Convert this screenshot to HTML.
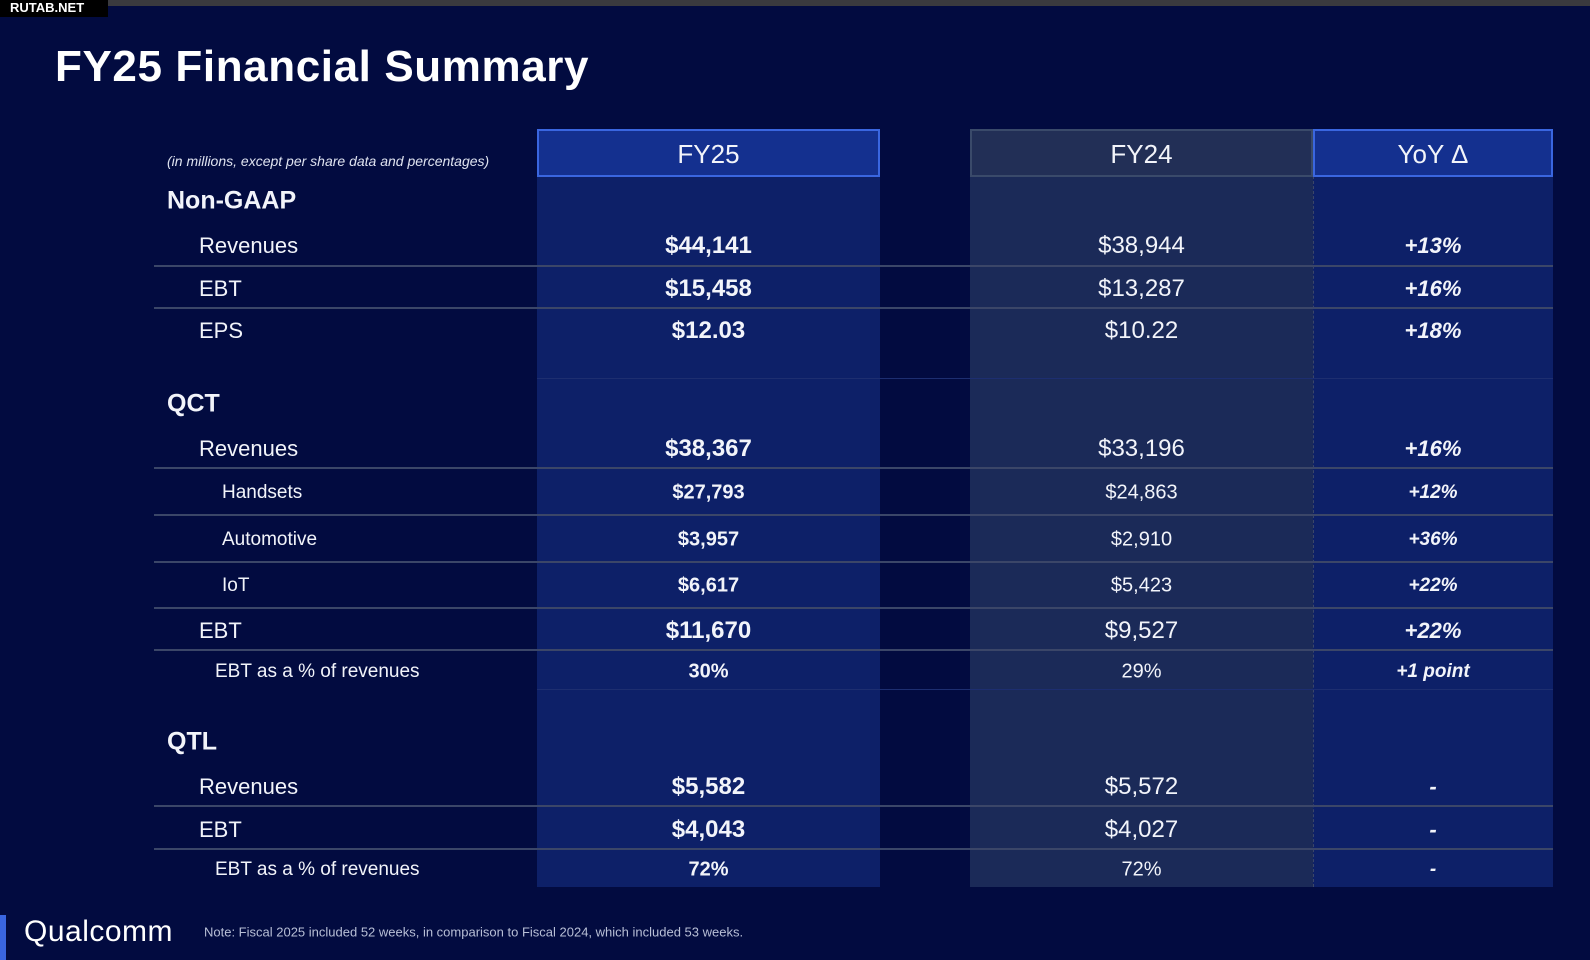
<!DOCTYPE html>
<html><head><style>
*{margin:0;padding:0;box-sizing:border-box}
body{width:1590px;height:960px;background:#020b40;position:relative;overflow:hidden;font-family:"Liberation Sans",sans-serif;color:#f2f4fa}
.a{position:absolute}
.col{position:absolute;top:176px;height:711px}
.hdr{position:absolute;top:129px;height:48px;font-size:26px;text-align:center;line-height:46px}
.t{position:absolute;white-space:nowrap;transform:translateY(-50%)}
.line{position:absolute;left:154px;width:1399px;height:2px;background:#3b4668}
.c1{left:537px;width:343px;text-align:center;font-weight:bold}
.c2{left:970px;width:343px;text-align:center}
.c3{left:1313px;width:240px;text-align:center;font-weight:bold;font-style:italic}
</style></head><body>
<div class="a" style="left:0;top:0;width:1590px;height:6px;background:#3a3a3e"></div>
<div class="a" style="left:0;top:0;width:108px;height:17px;background:#000;color:#fff;font-weight:bold;font-size:13px;line-height:16px;padding-left:10px">RUTAB.NET</div>
<div class="a" style="left:55px;top:42px;font-size:44px;font-weight:bold;color:#fff;letter-spacing:0.6px">FY25 Financial Summary</div>

<div class="col" style="left:537px;width:343px;background:#0d2068"></div>
<div class="col" style="left:970px;width:343px;background:#1b2a58"></div>
<div class="col" style="left:1313px;width:240px;background:#0d2068;border-left:1px dashed #3b4668"></div>
<div class="hdr" style="left:537px;width:343px;background:#14308f;border:2px solid #3a66e0">FY25</div>
<div class="hdr" style="left:970px;width:343px;background:#222f56;border:2px solid #3a4a6a">FY24</div>
<div class="hdr" style="left:1313px;width:240px;background:#14308f;border:2px solid #3a66e0">YoY Δ</div>

<div class="t" style="left:167px;top:161px;font-size:14px;font-style:italic;color:#dfe3f0">(in millions, except per share data and percentages)</div>

<div class="line" style="top:265px"></div><div class="line" style="top:307px"></div>
<div class="line" style="top:467px"></div><div class="line" style="top:514px"></div>
<div class="line" style="top:561px"></div><div class="line" style="top:607px"></div>
<div class="line" style="top:649px"></div><div class="line" style="top:805px"></div>
<div class="line" style="top:848px"></div>
<div class="a" style="left:537px;top:378px;width:1016px;height:1px;background:#1d2e70"></div>
<div class="a" style="left:537px;top:689px;width:1016px;height:1px;background:#1d2e70"></div>

<div class="t" style="left:167px;top:201px;font-size:25px;font-weight:bold">Non-GAAP</div>
<div class="t" style="left:167px;top:404px;font-size:25px;font-weight:bold">QCT</div>
<div class="t" style="left:167px;top:742px;font-size:25px;font-weight:bold">QTL</div>

<div class="t" style="left:199px;top:246px;font-size:22px">Revenues</div>
<div class="t c1" style="top:246px;font-size:24px">$44,141</div><div class="t c2" style="top:246px;font-size:24px">$38,944</div><div class="t c3" style="top:246px;font-size:22px">+13%</div>
<div class="t" style="left:199px;top:289px;font-size:22px">EBT</div>
<div class="t c1" style="top:289px;font-size:24px">$15,458</div><div class="t c2" style="top:289px;font-size:24px">$13,287</div><div class="t c3" style="top:289px;font-size:22px">+16%</div>
<div class="t" style="left:199px;top:331px;font-size:22px">EPS</div>
<div class="t c1" style="top:331px;font-size:24px">$12.03</div><div class="t c2" style="top:331px;font-size:24px">$10.22</div><div class="t c3" style="top:331px;font-size:22px">+18%</div>

<div class="t" style="left:199px;top:449px;font-size:22px">Revenues</div>
<div class="t c1" style="top:449px;font-size:24px">$38,367</div><div class="t c2" style="top:449px;font-size:24px">$33,196</div><div class="t c3" style="top:449px;font-size:22px">+16%</div>
<div class="t" style="left:222px;top:493px;font-size:19px">Handsets</div>
<div class="t c1" style="top:493px;font-size:20px">$27,793</div><div class="t c2" style="top:493px;font-size:20px">$24,863</div><div class="t c3" style="top:493px;font-size:19px">+12%</div>
<div class="t" style="left:222px;top:540px;font-size:19px">Automotive</div>
<div class="t c1" style="top:540px;font-size:20px">$3,957</div><div class="t c2" style="top:540px;font-size:20px">$2,910</div><div class="t c3" style="top:540px;font-size:19px">+36%</div>
<div class="t" style="left:222px;top:586px;font-size:19px">IoT</div>
<div class="t c1" style="top:586px;font-size:20px">$6,617</div><div class="t c2" style="top:586px;font-size:20px">$5,423</div><div class="t c3" style="top:586px;font-size:19px">+22%</div>
<div class="t" style="left:199px;top:631px;font-size:22px">EBT</div>
<div class="t c1" style="top:631px;font-size:24px">$11,670</div><div class="t c2" style="top:631px;font-size:24px">$9,527</div><div class="t c3" style="top:631px;font-size:22px">+22%</div>
<div class="t" style="left:215px;top:672px;font-size:19px">EBT as a % of revenues</div>
<div class="t c1" style="top:672px;font-size:20px">30%</div><div class="t c2" style="top:672px;font-size:20px">29%</div><div class="t c3" style="top:672px;font-size:19px">+1 point</div>

<div class="t" style="left:199px;top:787px;font-size:22px">Revenues</div>
<div class="t c1" style="top:787px;font-size:24px">$5,582</div><div class="t c2" style="top:787px;font-size:24px">$5,572</div><div class="t c3" style="top:787px;font-size:22px">-</div>
<div class="t" style="left:199px;top:830px;font-size:22px">EBT</div>
<div class="t c1" style="top:830px;font-size:24px">$4,043</div><div class="t c2" style="top:830px;font-size:24px">$4,027</div><div class="t c3" style="top:830px;font-size:22px">-</div>
<div class="t" style="left:215px;top:870px;font-size:19px">EBT as a % of revenues</div>
<div class="t c1" style="top:870px;font-size:20px">72%</div><div class="t c2" style="top:870px;font-size:20px">72%</div><div class="t c3" style="top:870px;font-size:19px">-</div>

<div class="a" style="left:0;top:915px;width:6px;height:45px;background:#3a66e0"></div>
<div class="t" style="left:24px;top:932px;font-size:30px;color:#fff;letter-spacing:0.5px">Qualcomm</div>
<div class="t" style="left:204px;top:932px;font-size:13px;color:#b8bfd6">Note: Fiscal 2025 included 52 weeks, in comparison to Fiscal 2024, which included 53 weeks.</div>
</body></html>
